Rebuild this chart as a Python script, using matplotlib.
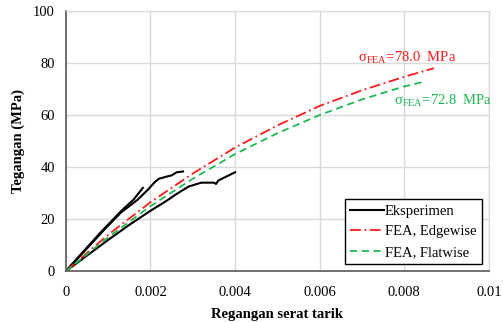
import matplotlib.pyplot as plt

plt.rcParams['font.family'] = ['Liberation Serif', 'DejaVu Serif']
plt.rcParams['mathtext.fontset'] = 'custom'
plt.rcParams['mathtext.rm'] = 'Liberation Serif'

# Eksperimen (tiga benda uji)
exp1_x = [0, 0.0003, 0.0008, 0.0013, 0.0016, 0.00182]
exp1_y = [0, 5.5, 14.5, 23.0, 27.5, 32.0]
exp2_x = [0, 0.0004, 0.0009, 0.0013, 0.0017, 0.00195, 0.0021, 0.0022, 0.00235, 0.0025, 0.00262, 0.00277]
exp2_y = [0, 7.0, 15.8, 22.5, 27.5, 31.5, 34.2, 35.5, 36.2, 36.8, 38.0, 38.3]
exp3_x = [0, 0.0005, 0.0010, 0.0015, 0.0020, 0.0023, 0.00245, 0.0026, 0.0029, 0.0032, 0.0035, 0.00355, 0.0036, 0.0040]
exp3_y = [0, 6.0, 12.0, 17.8, 23.2, 26.2, 27.8, 29.5, 32.5, 34.0, 34.0, 33.5, 34.8, 38.0]

# FEA
fea_x = [0, 0.001, 0.002, 0.003, 0.004, 0.005, 0.006, 0.007, 0.008]
edge_y = [0, 14.0, 26.5, 37.5, 47.5, 56.0, 63.5, 69.5, 74.7]
flat_y = [0, 13.0, 25.0, 35.5, 45.0, 53.0, 60.0, 66.0, 71.0]
edge_end = (0.0087, 78.0)
flat_end = (0.00847, 72.8)

fig = plt.figure(figsize=(5.03, 3.22), dpi=100)
ax = fig.add_axes([0.131, 0.158, 0.841, 0.808])

ax.plot(exp1_x, exp1_y, color='black', lw=1.5, label='Eksperimen')
ax.plot(exp2_x, exp2_y, color='black', lw=1.5)
ax.plot(exp3_x, exp3_y, color='black', lw=1.5)
ax.plot(fea_x + [edge_end[0]], edge_y + [edge_end[1]], color='#ff1a1a', lw=1.3,
        dashes=(6, 2, 1, 2), label='FEA, Edgewise')
ax.plot(fea_x + [flat_end[0]], flat_y + [flat_end[1]], color='#1db954', lw=1.3,
        dashes=(4, 2.5), label='FEA, Flatwise')

ax.text(0.0069, 80.5, 'σ$_{\\mathregular{FEA}}$=78.0  MPa', color='#ff1a1a', fontsize=10.5)
ax.text(0.00776, 64.0, 'σ$_{\\mathregular{FEA}}$=72.8  MPa', color='#1db954', fontsize=10.5)

ax.set_xlim(0, 0.01)
ax.set_ylim(0, 100)
ax.set_xticks([0, 0.002, 0.004, 0.006, 0.008, 0.01])
ax.set_xticklabels(['0', '0.002', '0.004', '0.006', '0.008', '0.01'])
ax.set_yticks([0, 20, 40, 60, 80, 100])
ax.tick_params(length=0, labelsize=10.5, pad=8)
ax.tick_params(axis='x', pad=11)
ax.grid(True, color='#d9d9d9', lw=1)
ax.set_axisbelow(True)
for s in ['top', 'right']:
    ax.spines[s].set_color('#d9d9d9')
for s in ['left', 'bottom']:
    ax.spines[s].set_color('#595959')
    ax.spines[s].set_linewidth(1.2)

ax.set_xlabel('Regangan serat tarik', fontsize=10.5, fontweight='bold', labelpad=6)
ax.set_ylabel('Tegangan (MPa)', fontsize=10.5, fontweight='bold', labelpad=6)

leg = ax.legend(loc='lower right', fontsize=10.5, fancybox=False, framealpha=1,
                edgecolor='black', handlelength=2.3, handletextpad=0.1,
                borderaxespad=0.5, labelspacing=0.5, borderpad=0.35)
leg.get_frame().set_linewidth(1.0)

fig.savefig('out.png', dpi=100)
